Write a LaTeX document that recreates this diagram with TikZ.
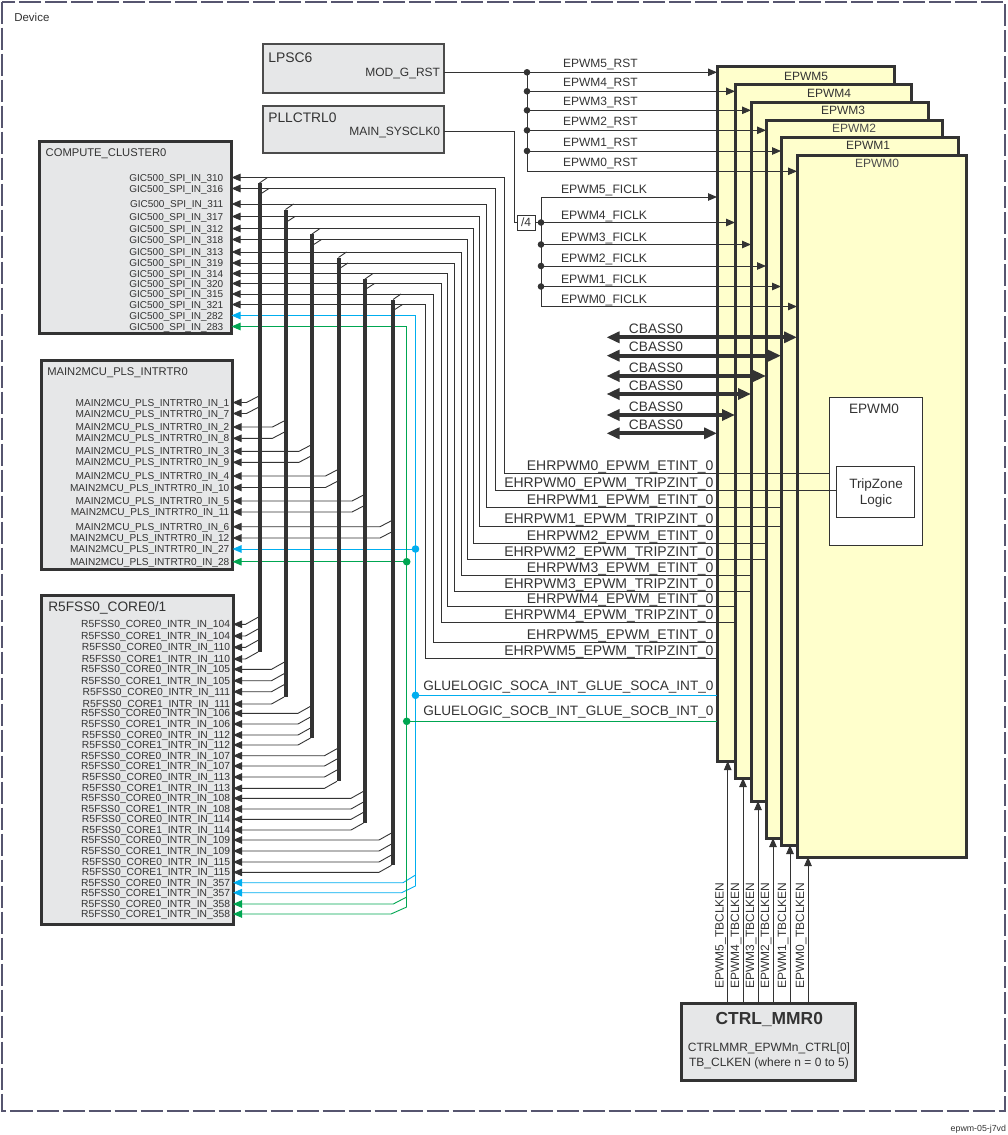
\documentclass[tikz,border=0pt]{standalone}
\usepackage{fontspec}
\setmainfont{Liberation Sans}
\usetikzlibrary{arrows.meta}
\definecolor{ink}{HTML}{333333}
\definecolor{boxgray}{HTML}{E6E7E8}
\definecolor{epwmyel}{HTML}{FFFFCC}
\definecolor{sigblue}{HTML}{00AEEF}
\definecolor{siggreen}{HTML}{00A651}
\definecolor{devborder}{HTML}{56556F}
\newcommand\fsz[1]{\fontsize{#1}{#1}\selectfont}
\begin{document}
\begin{tikzpicture}[x=1pt,y=-1pt,
  every node/.style={inner sep=0pt, outer sep=0pt, text=ink},
  graybox/.style={draw=ink, fill=boxgray, line width=3pt, anchor=north west},
  thinbox/.style={draw=black!70, fill=boxgray, line width=1.2pt, anchor=north west},
  epwmbox/.style={draw=ink, fill=epwmyel, line width=3pt, anchor=north west},
  wire/.style={draw=ink, line width=0.9pt},
  arr/.style={wire, -{Triangle[length=9pt,width=7.5pt]}},
  bwire/.style={draw=sigblue, line width=0.9pt},
  barr/.style={bwire, -{Triangle[length=9pt,width=7.5pt]}},
  gwire/.style={draw=siggreen, line width=0.9pt},
  garr/.style={gwire, -{Triangle[length=9pt,width=7.5pt]}},
  bus/.style={draw=ink, line width=4pt},
  dbl/.style={draw=ink, line width=4pt, {Triangle[length=13pt,width=11pt]}-{Triangle[length=13pt,width=11pt]}},
  smalllab/.style={font=\fsz{10}, anchor=base east},
]
\useasboundingbox (0,0) rectangle (1007,1135);
% device border
\draw[devborder, line width=2pt, dash pattern=on 22pt off 4pt] (2,1.5) rectangle (1005,1111);
\node[font=\fsz{11.5}, anchor=base west] (devlab) at (14.3,21.8) {Device};
\node[font=\fsz{8.8}, anchor=base east] (foot) at (1006,1131.5) {epwm-05-j7vd};

% EPWM stack
\node[epwmbox, minimum width=177, minimum height=695] (e5) at (717,66) {};
\node[epwmbox, minimum width=176, minimum height=694] (e4) at (735,84) {};
\node[epwmbox, minimum width=177, minimum height=699] (e3) at (751,102) {};
\node[epwmbox, minimum width=176, minimum height=718] (e2) at (766,120) {};
\node[epwmbox, minimum width=177, minimum height=708] (e1) at (781,137) {};
\node[epwmbox, minimum width=169, minimum height=702] (e0) at (797,155) {};
\node[font=\fsz{12}] (e5l) at (806,76) {EPWM5};
\node[font=\fsz{12}] (e4l) at (829,93.3) {EPWM4};
\node[font=\fsz{12}] (e3l) at (843,110.7) {EPWM3};
\node[font=\fsz{12}, text=black!70] (e2l) at (854,128.7) {EPWM2};
\node[font=\fsz{12}] (e1l) at (868,145.3) {EPWM1};
\node[font=\fsz{12}, text=black!70] (e0l) at (877,163.3) {EPWM0};
\node[draw=ink, fill=white, line width=0.9pt, anchor=north west, minimum width=92.5, minimum height=147.5] (ie0) at (829.5,397.5) {};
\node[font=\fsz{13.6}] (ie0l) at (874,409.3) {EPWM0};
\node[draw=ink, fill=white, line width=0.9pt, anchor=north west, minimum width=77.5, minimum height=51] (tz) at (836.5,466) {};
\node[font=\fsz{13.5}, anchor=base] (tz1) at (876,488.2) {TripZone};
\node[font=\fsz{13.5}, anchor=base] (tz2) at (876,504.2) {Logic};

% other boxes
\node[thinbox, minimum width=181, minimum height=49] (lpsc) at (263,44) {};
\node[thinbox, minimum width=181, minimum height=47] (pll) at (263,106) {};
\node[graybox, minimum width=192, minimum height=192] (cc) at (39.5,141.5) {};
\node[graybox, minimum width=191, minimum height=209.5] (mm) at (41.5,360) {};
\node[graybox, minimum width=191.5, minimum height=329] (r5) at (41.5,595.5) {};
\node[graybox, minimum width=174.5, minimum height=77] (ctrl) at (681,1003.5) {};

\node[font=\fsz{13.9}, anchor=base west] (lpscl) at (268.3,62.7) {LPSC6};
\node[font=\fsz{12}, anchor=base east] (modg) at (440,76.3) {MOD\_G\_RST};
\node[font=\fsz{13.8}, anchor=base west] (plll) at (268.3,122.3) {PLLCTRL0};
\node[font=\fsz{12}, anchor=base east] (sysclk) at (440,135.3) {MAIN\_SYSCLK0};
\node[font=\fsz{11.2}, anchor=base west] (ccl) at (45.7,156.6) {COMPUTE\_CLUSTER0};
\node[font=\fsz{11.2}, anchor=base west] (mml) at (47.3,375.8) {MAIN2MCU\_PLS\_INTRTR0};
\node[font=\fsz{13.7}, anchor=base west] (r5l) at (48.3,611.6) {R5FSS0\_CORE0/1};
\node[font=\bfseries\fsz{17.4}, anchor=base] (ctrll) at (769.3,1024.6) {CTRL\_MMR0};
\node[font=\fsz{12}, anchor=base] (ctrl1) at (769,1051.6) {CTRLMMR\_EPWMn\_CTRL[0]};
\node[font=\fsz{12}, anchor=base] (ctrl2) at (769,1066.3) {TB\_CLKEN (where n = 0 to 5)};

% resets
\draw[arr] (lpsc.east |- 0,72.3) -- (e5.west |- 0,72.3);
\draw[arr] (527,72.3) -- (527,171.3) -- (e0.west |- 0,171.3);
\foreach \y/\s in {91.3/e4, 110.3/e3, 130.3/e2, 151/e1} \draw[arr] (527,\y) -- (\s.west |- 0,\y);
\foreach \y in {72.3, 91.3, 110.3, 130.3, 151} \fill[ink] (527,\y) circle[radius=3.3];
\foreach \y/\n in {72.3/5, 91.3/4, 110.3/3, 130.3/2, 151/1, 171.3/0}
  \node[font=\fsz{12}, anchor=base west] (rl\n) at (563,\y-4.7) {EPWM\n\_RST};

% clocks
\node[draw=ink, fill=white, line width=0.9pt, minimum width=18, minimum height=15, font=\fsz{12}] (div) at (526,222.5) {/4};
\draw[wire] (pll.east |- 0,131) -- (514,131) -- (514,222.5) -- (div.west);
\draw[wire] (div.east) -- (541,222.5);
\draw[arr] (541,222.5) -- (541,197) -- (e5.west |- 0,197);
\draw[arr] (541,222.5) -- (541,306.5) -- (e0.west |- 0,306.5);
\foreach \y/\s in {222.5/e4, 244.5/e3, 266/e2, 286.5/e1} {
  \draw[arr] (541,\y) -- (\s.west |- 0,\y);
  \fill[ink] (541,\y) circle[radius=3.3];
}
\foreach \y/\n in {197/5, 222.5/4, 244.5/3, 266/2, 286.5/1, 306.5/0}
  \node[font=\fsz{12.2}, anchor=base west] (fl\n) at (561,\y-3.3) {EPWM\n\_FICLK};

% CBASS
\foreach \y/\s in {337.3/e0, 355.7/e1, 376/e2, 394/e3, 415/e4, 433.3/e5} {
  \coordinate (cb\s) at (606.5,\y);
  \draw[dbl] (cb\s) -- (\s.west |- cb\s);
  \node[font=\fsz{13.7}, anchor=base] (cbl\s) at (656,\y-4) {CBASS0};
}

% EHRPWM interrupts to GIC
\foreach \s/\ye/\xv/\gy in {ie0/473.3/504.5/177.5, tz/490/495.5/188.5, e1/507.3/486.5/204, e1/526.7/479.5/216.5,
  e2/543.3/473/228.5, e2/559/467.5/239.5, e3/575/461/252, e3/591.3/454.5/263,
  e4/606.3/447.5/273.5, e4/622.3/441/283.5, e5/642/433.5/294, e5/658/425/304.5}
  \draw[arr] (\s.west |- 0,\ye) -- (\xv,\ye) -- (\xv,\gy) -- (cc.east |- 0,\gy);
\foreach \y/\n/\t in {473.3/0/ETINT, 490/0/TRIPZINT, 507.3/1/ETINT, 526.7/1/TRIPZINT, 543.3/2/ETINT, 559/2/TRIPZINT,
  575/3/ETINT, 591.3/3/TRIPZINT, 606.3/4/ETINT, 622.3/4/TRIPZINT, 642/5/ETINT, 658/5/TRIPZINT}
  \node[font=\fsz{14}, anchor=base east] (eh\n\t) at (713.5,\y-3) {EHRPWM\n\_EPWM\_\t\_0};

% GIC labels
\foreach \gy/\num in {177.5/310, 188.5/316, 204/311, 216.5/317, 228.5/312, 239.5/318, 252/313, 263/319,
  273.5/314, 283.5/320, 294/315, 304.5/321, 315.5/282, 326.5/283}
  \node[smalllab] (gic\num) at (223.3,\gy+3.6) {GIC500\_SPI\_IN\_\num};

% MAIN2MCU branches
\foreach \xb/\y in {259.5/402.5, 259.5/413.5, 285.5/427, 285.5/438.3, 312/451.3, 312/462.3,
  338.5/476, 338.5/487.5, 365/501, 365/512, 393/526.7, 393/538}
  \draw[arr] (\xb-1.5,\y-6) -- (\xb-13,\y) -- (mm.east |- 0,\y);
\foreach \y/\num in {402.5/1, 413.5/7, 427/2, 438.3/8, 451.3/3, 462.3/9, 476/4, 487.5/10,
  501/5, 512/11, 526.7/6, 538/12, 549/27, 561.7/28}
  \node[smalllab, font=\fsz{10.1}] (mmi\num) at (229.3,\y+3.6) {MAIN2MCU\_PLS\_INTRTR0\_IN\_\num};

% R5FSS branches
\foreach \xb/\y in {259.5/624.3, 259.5/636, 259.5/647.3, 259.5/659, 285.5/669.3, 285.5/680.7, 285.5/691.7, 285.5/704,
  312/713.3, 312/724, 312/735, 312/745, 338.5/755.7, 338.5/766, 338.5/777, 338.5/788.3,
  365/798.3, 365/809, 365/819.3, 365/830, 393/840, 393/851, 393/862, 393/872.3}
  \draw[arr] (\xb-1.5,\y-7) -- (\xb-14,\y) -- (r5.east |- 0,\y);
\foreach \y/\c/\num in {624.3/0/104, 636/1/104, 647.3/0/110, 659/1/110, 669.3/0/105, 680.7/1/105, 691.7/0/111, 704/1/111,
  713.3/0/106, 724/1/106, 735/0/112, 745/1/112, 755.7/0/107, 766/1/107, 777/0/113, 788.3/1/113,
  798.3/0/108, 809/1/108, 819.3/0/114, 830/1/114, 840/0/109, 851/1/109, 862/0/115, 872.3/1/115,
  882.7/0/357, 892.7/1/357, 904/0/358, 914/1/358}
  \node[smalllab, font=\fsz{10.3}] (r5i\c\num) at (230,\y+3.6) {R5FSS0\_CORE\c\_INTR\_IN\_\num};

% GLUELOGIC blue
\coordinate (soca) at (415.5,695.3);
\coordinate (bj27) at (415.5,549);
\draw[bwire] (e5.west |- soca) -- (soca);
\draw[barr] (soca) -- (415.5,315.5) -- (cc.east |- 0,315.5);
\draw[barr] (bj27) -- (mm.east |- bj27);
\draw[bwire] (soca) -- (415.5,886);
\draw[barr] (415.5,875) -- (403,882.7) -- (r5.east |- 0,882.7);
\draw[barr] (415.5,886) -- (401.7,892.7) -- (r5.east |- 0,892.7);
% GLUELOGIC green
\coordinate (socb) at (406.7,721.3);
\coordinate (gj28) at (406.7,561.7);
\draw[gwire] (e5.west |- socb) -- (socb);
\draw[garr] (socb) -- (406.7,326.5) -- (cc.east |- 0,326.5);
\draw[garr] (gj28) -- (mm.east |- gj28);
\draw[gwire] (socb) -- (406.7,907);
\draw[garr] (406.7,897) -- (393.3,904) -- (r5.east |- 0,904);
\draw[garr] (406.7,907) -- (391,914) -- (r5.east |- 0,914);
\fill[sigblue] (soca) circle[radius=3.8];
\fill[sigblue] (bj27) circle[radius=3.8];
\fill[siggreen] (socb) circle[radius=3.8];
\fill[siggreen] (gj28) circle[radius=3.8];
\node[font=\fsz{13.6}, anchor=base east] (socal) at (713.5,690.9) {GLUELOGIC\_SOCA\_INT\_GLUE\_SOCA\_INT\_0};
\node[font=\fsz{13.6}, anchor=base east] (socbl) at (713.5,715.9) {GLUELOGIC\_SOCB\_INT\_GLUE\_SOCB\_INT\_0};

% bus bars and taps
\foreach \xb/\ya/\yb/\bot in {259.5/177.5/188.5/652, 285.5/204/216.5/697, 312/228.5/239.5/738,
  338.5/252/263/781.3, 365/273.5/283.5/823, 393/294/304.5/865.3} {
  \draw[wire] (\xb,\ya+5.5) -- (\xb+8,\ya);
  \draw[wire] (\xb+1,\yb+5.5) -- (\xb+9.5,\yb);
  \draw[bus] (\xb,\ya+5.5) -- (\xb,\bot);
}

% TBCLKEN
\foreach \x/\s/\n in {727.7/e5/5, 743/e4/4, 758/e3/3, 773/e2/2, 790/e1/1, 808/e0/0} {
  \draw[arr] (ctrl.north -| \x,0) -- (\s.south -| \x,0);
  \node[rotate=90, font=\fsz{12}, anchor=base] (tb\n) at (\x-4,935.5) {EPWM\n\_TBCLKEN};
}
\end{tikzpicture}
\end{document}
